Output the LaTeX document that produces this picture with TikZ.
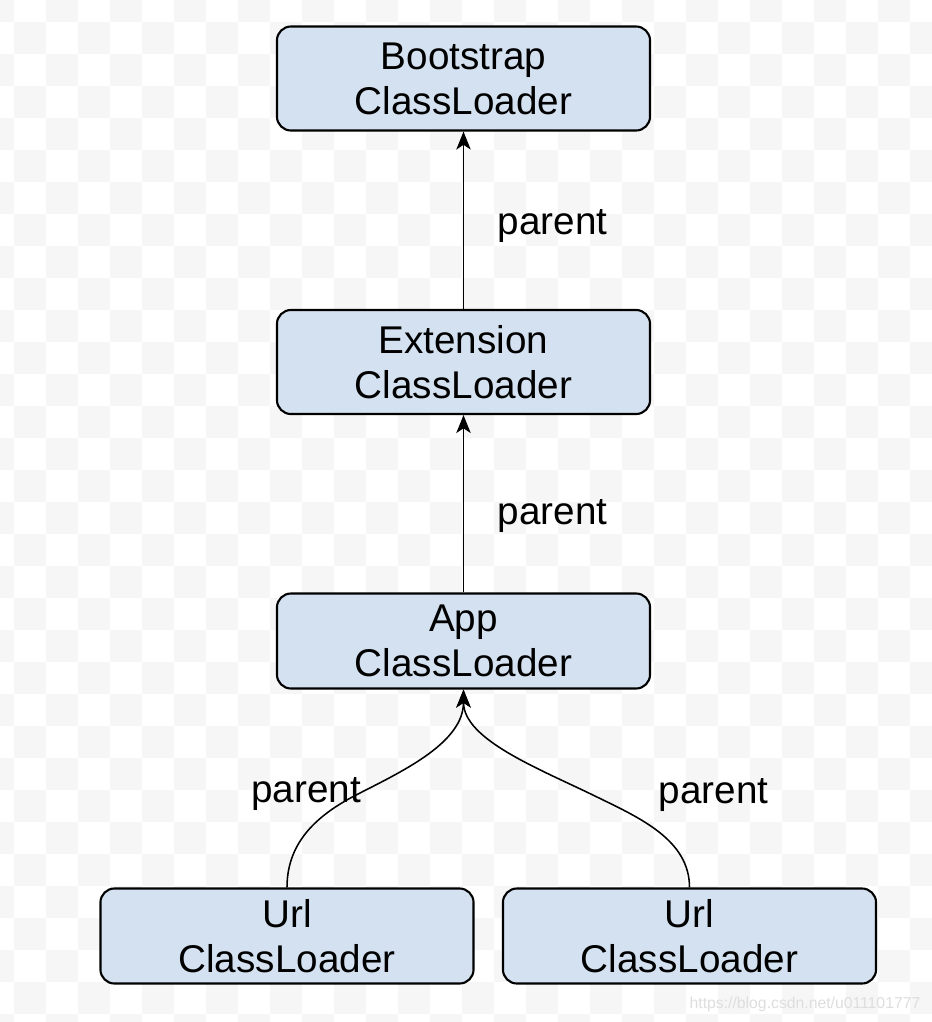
\documentclass[tikz,border=0pt]{standalone}
\usepackage{fontspec}
\setmainfont{Liberation Sans}
\usepackage{tikz}
\usetikzlibrary{arrows.meta}
\definecolor{boxfill}{RGB}{212,225,240}
\definecolor{chkgray}{RGB}{246,246,246}
\definecolor{wmgray}{RGB}{222,222,222}
\tikzset{
  loader/.style={draw, line width=1.5pt, fill=boxfill, rounded corners=0.35cm,
    align=center, minimum width=9.325cm, inner sep=0pt,
    font=\fontsize{27.5pt}{31.9pt}\selectfont},
  tall/.style={loader, minimum height=2.6cm},
  short/.style={loader, minimum height=2.375cm},
  lbl/.style={inner sep=0pt, font=\fontsize{27.5pt}{31.9pt}\selectfont},
  wmark/.style={inner sep=0pt, text=wmgray, font=\fontsize{11.2pt}{13pt}\selectfont},
  edge/.style={line width=1.1pt, -{Stealth[length=0.45cm, width=0.36cm, inset=0.12cm]}}
}

\begin{document}
\begin{tikzpicture}[x=0.025cm, y=-0.025cm]
  \useasboundingbox (0,0) rectangle (932,1022);
  % faint checker background
  \begin{scope}
    \clip (0,0) rectangle (932,1022);
    \fill[white] (0,0) rectangle (932,1022);
    \foreach \i in {0,...,29}{
      \foreach \j in {0,...,32}{
        \pgfmathtruncatemacro{\chk}{mod(\i+\j,2)}
        \ifnum\chk=0 \fill[chkgray] (-18+32*\i,-10+32*\j) rectangle ++(32,32); \fi
      }
    }
  \end{scope}

  \node[tall] (AA) at (463.5, 78.5) {Bootstrap\\ClassLoader};
  \node[tall] (BA) at (463.5, 362) {Extension\\ClassLoader};
  \node[short] (CA) at (463.5, 641) {App\\ClassLoader};
  \node[short] (DA) at (287, 936) {Url\\ClassLoader};
  \node[short] (DB) at (689.5, 936) {Url\\ClassLoader};

  \draw [edge] (BA) -- node [lbl, right, xshift=0.84cm, yshift=-0.15cm] {parent} (AA);
  \draw [edge] (CA) -- node [lbl, right, xshift=0.84cm, yshift=-0.3cm] {parent} (BA);
  \draw [edge] (DA.north) .. controls (287,840) and (320,813) .. (360,793)
    .. controls (405,770) and (463.5,742) .. (CA.south);
  \draw [edge] (DB.north) .. controls (689.5,840) and (640,818) .. (597,797)
    .. controls (540,769) and (463.5,740) .. (CA.south);
  \node[lbl, anchor=base] (LA) at (306, 802) {parent};
  \node[lbl, anchor=base] (LB) at (713.5, 803) {parent};

  \node[wmark, anchor=base] (WM) at (805, 1008) {https://blog.csdn.net/u011101777};
\end{tikzpicture}
\end{document}
